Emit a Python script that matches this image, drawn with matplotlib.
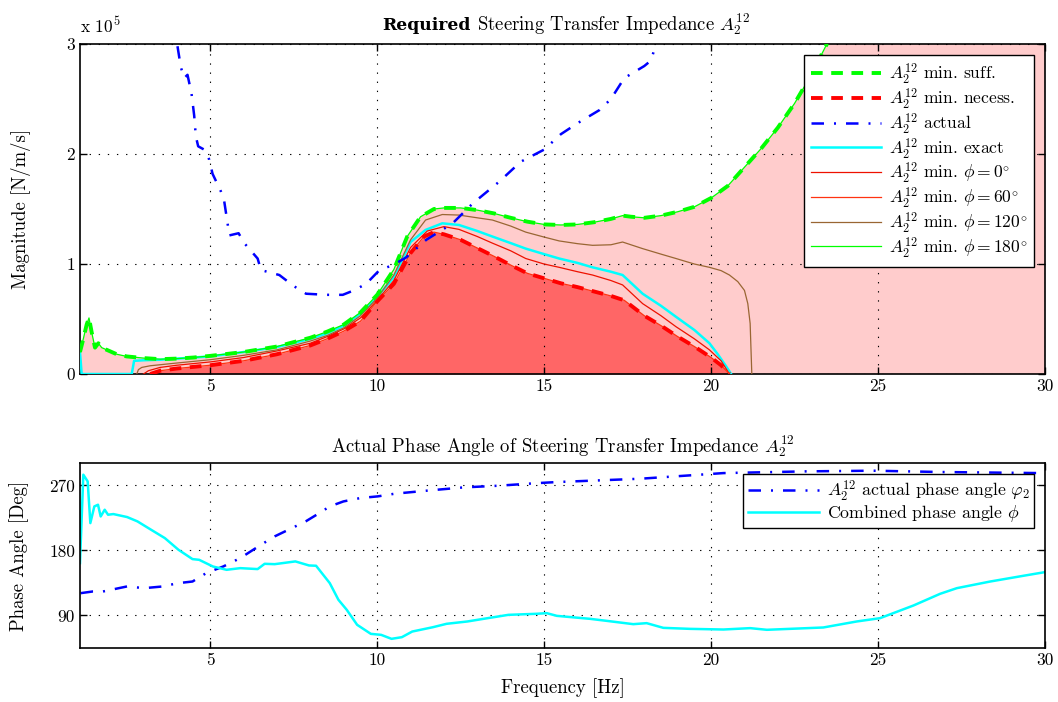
import numpy as np
import matplotlib.pyplot as plt
from matplotlib.ticker import FuncFormatter

plt.rcParams['font.family'] = 'serif'
plt.rcParams['font.serif'] = ['cmr10']
plt.rcParams['mathtext.fontset'] = 'cm'
plt.rcParams['axes.unicode_minus'] = False
plt.rcParams['font.size'] = 13.5

# ---- magnitude curves [N/m/s] ----
suff_f = [1.1, 1.2, 1.3, 1.37, 1.45, 1.55, 1.65, 1.75, 1.9, 2.2, 2.5, 3.0, 3.5, 4.0, 4.5,
          5.0, 6.0, 7.0, 7.5, 8.0, 8.5, 9.0, 9.5, 10.0, 10.5, 10.9, 11.3, 11.7, 12.0, 12.5,
          13.0, 13.5, 14.0, 14.5, 15.0, 15.5, 16.0, 16.5, 17.0, 17.35, 17.6, 18.0, 18.5,
          19.0, 19.5, 20.0, 20.5, 21.0, 21.5, 22.0, 22.5, 23.0, 23.45, 24.0, 25.0, 27.0, 30.0]
suff = np.array([0.2, 0.32, 0.45, 0.51, 0.38, 0.24, 0.28, 0.24, 0.22, 0.18, 0.16, 0.145,
                 0.135, 0.14, 0.15, 0.165, 0.2, 0.25, 0.29, 0.33, 0.385, 0.45, 0.56, 0.72,
                 0.95, 1.25, 1.43, 1.5, 1.51, 1.51, 1.49, 1.46, 1.42, 1.385, 1.36, 1.355,
                 1.36, 1.38, 1.41, 1.44, 1.43, 1.42, 1.44, 1.475, 1.52, 1.6, 1.71, 1.88,
                 2.05, 2.24, 2.46, 2.72, 2.99, 3.4, 4.2, 6.0, 9.0]) * 1e5

nec_f = [3.2, 3.5, 4.0, 5.0, 6.0, 7.0, 8.0, 8.5, 9.0, 9.5, 10.0, 10.5, 11.0, 11.4, 11.7,
         12.0, 12.5, 13.0, 13.5, 14.0, 14.5, 15.0, 15.5, 16.0, 16.5, 17.0, 17.4, 18.0,
         18.5, 19.0, 19.5, 20.0, 20.3, 20.55]
nec = np.array([0.0, 0.03, 0.05, 0.08, 0.12, 0.18, 0.26, 0.32, 0.39, 0.48, 0.66, 0.82, 1.1,
                1.25, 1.29, 1.27, 1.22, 1.145, 1.07, 0.99, 0.915, 0.87, 0.825, 0.79, 0.75,
                0.71, 0.67, 0.53, 0.44, 0.34, 0.25, 0.15, 0.08, 0.0]) * 1e5

act_f = [4.02, 4.12, 4.22, 4.32, 4.44, 4.52, 4.57, 4.64, 4.82, 4.97, 5.07, 5.32, 5.42, 5.52,
         5.57, 5.85, 6.02, 6.42, 6.52, 7.07, 7.5, 7.87, 8.47, 8.97, 9.3, 9.67, 10.07, 10.47,
         10.87, 11.47, 12.26, 12.86, 13.66, 14.3, 15.0, 15.5, 16.0, 16.66, 17.0, 17.4, 18.0,
         18.2, 18.35]
act = np.array([2.98, 2.79, 2.69, 2.72, 2.55, 2.35, 2.16, 2.07, 2.04, 1.95, 1.82, 1.66, 1.57,
                1.37, 1.26, 1.28, 1.19, 1.05, 0.945, 0.9, 0.8, 0.73, 0.72, 0.72, 0.76, 0.82,
                0.945, 0.99, 1.06, 1.22, 1.37, 1.55, 1.75, 1.93, 2.04, 2.18, 2.28, 2.4, 2.5,
                2.69, 2.8, 2.85, 3.0]) * 1e5

ex_f = [1.1, 1.15, 2.65, 2.72, 3.0, 3.5, 4.0, 5.0, 6.0, 7.0, 8.0, 8.5, 9.0, 9.5, 10.0, 10.5,
        11.0, 11.45, 11.95, 12.45, 13.0, 13.45, 14.0, 14.45, 15.0, 15.45, 16.0, 16.45, 17.0,
        17.35, 17.95, 18.5, 18.95, 19.5, 19.95, 20.2, 20.45, 20.6]
ex = np.array([0.2, 0.0, 0.0, 0.12, 0.125, 0.13, 0.14, 0.16, 0.2, 0.245, 0.32, 0.37, 0.44,
               0.55, 0.7, 0.88, 1.2, 1.31, 1.37, 1.355, 1.30, 1.25, 1.19, 1.14, 1.09, 1.05,
               1.01, 0.97, 0.93, 0.9, 0.73, 0.62, 0.52, 0.4, 0.28, 0.18, 0.07, 0.0]) * 1e5

p0_f = [3.0, 3.15, 3.5, 4.0, 5.0, 6.0, 7.0, 8.0, 8.5, 9.0, 9.5, 10.0, 10.5, 11.0, 11.5, 12.0,
        12.45, 13.0, 13.45, 14.0, 14.45, 15.0, 15.45, 16.0, 16.45, 17.0, 17.35, 17.95, 18.5,
        18.95, 19.5, 19.95, 20.3, 20.55]
p0 = np.array([0.0, 0.03, 0.06, 0.08, 0.11, 0.15, 0.21, 0.28, 0.34, 0.41, 0.51, 0.67, 0.85,
               1.15, 1.3, 1.34, 1.315, 1.25, 1.19, 1.12, 1.05, 1.0, 0.97, 0.93, 0.9, 0.85,
               0.81, 0.64, 0.53, 0.43, 0.32, 0.22, 0.12, 0.0]) * 1e5

p120_f = [2.8, 2.85, 2.95, 3.2, 4.0, 5.0, 6.0, 7.0, 8.0, 8.5, 9.0, 9.5, 10.0, 10.5, 11.0,
          11.45, 11.95, 12.45, 13.0, 13.45, 14.0, 14.45, 15.0, 15.45, 16.0, 16.45, 17.0,
          17.35, 17.95, 18.5, 18.95, 19.5, 19.95, 20.3, 20.55, 20.8, 21.0, 21.1, 21.17, 21.22]
p120 = np.array([0.0, 0.04, 0.06, 0.075, 0.1, 0.13, 0.17, 0.22, 0.3, 0.35, 0.42, 0.53, 0.69,
                 0.9, 1.22, 1.4, 1.45, 1.445, 1.42, 1.4, 1.345, 1.29, 1.245, 1.21, 1.185,
                 1.17, 1.175, 1.2, 1.14, 1.09, 1.05, 1.0, 0.97, 0.94, 0.9, 0.84, 0.76, 0.64,
                 0.46, 0.0]) * 1e5

# phi = 60 coincides with the necessary bound, phi = 180 with the sufficient one
p60_f, p60 = nec_f, nec
p180_f, p180 = suff_f, suff

# ---- phase curves [deg] ----
phi2_f = [1.12, 1.48, 1.79, 2.51, 3.02, 3.54, 4.05, 4.47, 4.88, 5.39, 5.9, 6.52, 6.93, 7.45,
          7.86, 8.27, 8.58, 8.99, 9.5, 10.02, 10.53, 11.56, 12.59, 13.62, 14.75, 15.38,
          17.88, 19.67, 20.37, 22.86, 24.86, 26.86, 29.85]
phi2 = [120.9, 123.2, 123.2, 130.2, 127.8, 130.0, 134.8, 137.0, 148.6, 157.8, 169.4, 187.8,
        199.4, 211.0, 220.2, 231.7, 240.9, 247.8, 252.5, 254.8, 258.5, 263.0, 267.2, 269.5,
        273.0, 274.6, 279.2, 284.8, 287.0, 289.4, 290.3, 288.5, 287.0]

comb_f = [1.1, 1.2, 1.33, 1.41, 1.53, 1.64, 1.72, 1.84, 1.94, 2.1, 2.51, 2.82, 3.23, 3.64,
          4.05, 4.47, 4.67, 5.08, 5.49, 5.9, 6.42, 6.63, 6.93, 7.55, 7.96, 8.17, 8.58, 8.84,
          9.09, 9.4, 9.81, 10.12, 10.43, 10.74, 11.05, 11.67, 12.08, 12.7, 13.31, 13.93,
          14.75, 15.08, 15.38, 16.37, 16.87, 17.67, 18.07, 18.57, 19.37, 20.37, 21.17,
          21.67, 23.36, 24.36, 25.06, 26.06, 26.86, 27.36, 28.36, 29.35, 30.0]
comb = [162.5, 284.8, 275.5, 217.8, 240.9, 243.2, 227.0, 236.3, 229.4, 230.3, 226.2, 220.2,
        208.6, 197.1, 180.9, 168.0, 167.0, 157.8, 153.2, 155.5, 154.2, 161.5, 161.0, 164.8,
        159.2, 158.8, 134.8, 111.7, 97.8, 77.1, 64.6, 63.2, 57.7, 60.0, 67.8, 73.8, 78.5,
        81.7, 86.3, 90.9, 92.3, 93.2, 89.5, 85.4, 82.6, 78.0, 79.4, 72.9, 71.5, 70.6, 72.5,
        70.2, 73.4, 81.7, 86.3, 103.8, 120.0, 127.8, 137.0, 144.9, 150.0]

W, H = 1058, 702
fig = plt.figure(figsize=(W / 100, H / 100), dpi=100)
ax1 = fig.add_axes([0.0756, 0.4672, 0.9121, 0.4701])
ax2 = fig.add_axes([0.0756, 0.0769, 0.9121, 0.2636])

grid_style = dict(color='k', linestyle=(0, (1.2, 7)), linewidth=0.8)

# regions: sufficient (light) and necessary (dark)
ax1.fill_between(suff_f, 0, suff, color='#FFCCCC', linewidth=0, zorder=1)
ax1.fill_between(nec_f, 0, nec, color='#FF6666', linewidth=0, zorder=1.1)

lab = r'$A_2^{12}$'
ax1.plot(suff_f, suff, color='#00FF00', lw=2.8, linestyle=(0, (3, 2.2)),
         label=lab + ' min. suff.', zorder=4)
ax1.plot(nec_f, nec, color='#FF0000', lw=2.8, linestyle=(0, (3, 2.2)),
         label=lab + ' min. necess.', zorder=4)
ax1.plot(act_f, act, color='#0000FF', lw=1.8, linestyle=(0, (5, 4, 0.8, 4)),
         label=lab + ' actual', zorder=4)
ax1.plot(ex_f, ex, color='#00FFFF', lw=1.8, label=lab + ' min. exact', zorder=3)
ax1.plot(p0_f, p0, color='#EE1100', lw=0.9, label=lab + r' min. $\phi = 0^{\circ}$', zorder=3)
ax1.plot(p60_f, p60, color='#FF3311', lw=0.9, label=lab + r' min. $\phi = 60^{\circ}$', zorder=3)
ax1.plot(p120_f, p120, color='#996633', lw=0.9, label=lab + r' min. $\phi = 120^{\circ}$', zorder=3)
ax1.plot(p180_f, p180, color='#00FF00', lw=0.9, label=lab + r' min. $\phi = 180^{\circ}$', zorder=3.5)

ax1.set_xlim(1.1, 30)
ax1.set_ylim(0, 3e5)
ax1.set_xticks([5, 10, 15, 20, 25, 30])
ax1.set_yticks([0, 1e5, 2e5, 3e5])
ax1.yaxis.set_major_formatter(FuncFormatter(lambda v, p: '%d' % round(v / 1e5)))
ax1.set_ylabel('Magnitude [N/m/s]')
ax1.yaxis.set_label_coords(-0.051, 0.5)
ax1.text(0.0, 1.025, r'x 10$^{5}$', transform=ax1.transAxes, fontsize=12.5,
         ha='left', va='bottom')
ax1.grid(True, **grid_style)
ax1.set_axisbelow(False)
leg1 = ax1.legend(loc='upper right', fancybox=False, edgecolor='k', framealpha=1,
                  fontsize=12.6, handlelength=4.0, handletextpad=0.45, labelspacing=0.0,
                  borderpad=0.4, borderaxespad=0.6)
leg1.get_frame().set_linewidth(1.0)

# title with a bold first word, centred over the axes
t1 = fig.text(0, 1 - 30 / H, 'Required', family='DejaVu Serif', weight='bold',
              fontsize=12.3, va='baseline', ha='left')
t2 = fig.text(0, 1 - 30 / H, r'Steering Transfer Impedance $A_2^{12}$', fontsize=13.5,
              va='baseline', ha='left')
rend = fig.canvas.get_renderer()
w1 = t1.get_window_extent(rend).width
w2 = t2.get_window_extent(rend).width
gap = 6
x0 = 566 - (w1 + gap + w2) / 2
t1.set_x(x0 / W)
t2.set_x((x0 + w1 + gap) / W)

ax2.plot(phi2_f, phi2, color='#0000FF', lw=1.8, linestyle=(0, (5, 4, 0.8, 4)),
         label=lab + r' actual phase angle $\varphi_2$')
ax2.plot(comb_f, comb, color='#00FFFF', lw=1.8, label=r'Combined phase angle $\phi$')
ax2.set_xlim(1.1, 30)
ax2.set_ylim(45, 301)
ax2.set_xticks([5, 10, 15, 20, 25, 30])
ax2.set_yticks([90, 180, 270])
ax2.set_xlabel('Frequency [Hz]', labelpad=7)
ax2.set_ylabel('Phase Angle [Deg]')
ax2.yaxis.set_label_coords(-0.053, 0.5)
ax2.set_title(r'Actual Phase Angle of Steering Transfer Impedance $A_2^{12}$',
              fontsize=13.5, pad=8)
ax2.grid(True, **grid_style)
leg2 = ax2.legend(loc='upper right', fancybox=False, edgecolor='k', framealpha=1,
                  fontsize=12.8, handlelength=4.0, handletextpad=0.45, labelspacing=0.0,
                  borderpad=0.25, borderaxespad=0.6)
leg2.get_frame().set_linewidth(1.0)

for ax in (ax1, ax2):
    ax.tick_params(direction='in', top=True, right=True, length=5, width=1, labelsize=12.5)
    for s in ax.spines.values():
        s.set_linewidth(1.2)

fig.savefig('out.png', dpi=100)
